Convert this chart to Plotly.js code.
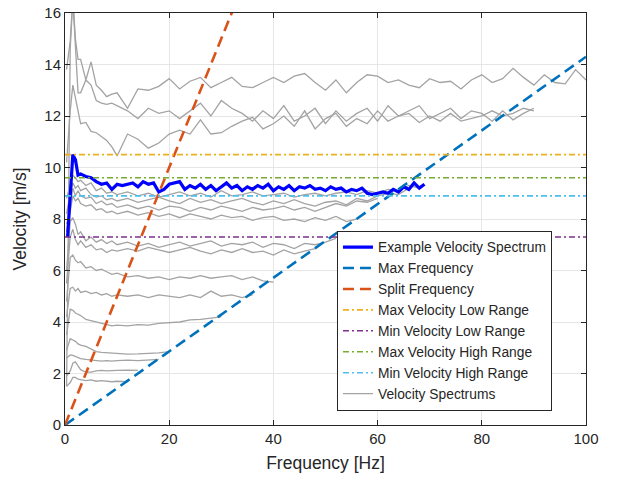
<!DOCTYPE html>
<html>
<head>
<meta charset="utf-8">
<script src="https://cdn.plot.ly/plotly-3.0.1.min.js"></script>
<style>html,body{margin:0;padding:0;background:#fff;}#chart{width:617px;height:477px;}</style>
</head>
<body>
<div id="chart"></div>
<script>
// Shared frequency grid for gray velocity spectrums [Hz]
const gridF = [0.3,1,1.5,2,2.5,3,4,5,6,7,8,9,10,12,14,16,18,20,22,24,26,28,30,32,34,36,38,40,42,44,46,48,50,52,54,56,58,60,62,64,66,68,70,72,74,76,78,80,82,84,86,88,90,92,94,96,98,100];

// Gray velocity spectrums [m/s]
const specU1 = [13.8,14.9,16.6,15.0,14.2,14.2,13.4,14.1,13.2,13.0,12.75,12.85,12.9,12.3,13.05,13.0,13.15,13.45,13.05,13.35,13.5,13.1,13.3,13.5,13.15,13.1,13.3,13.5,13.3,13.55,13.65,13.3,13.0,13.4,12.9,13.3,13.6,13.55,13.3,13.4,13.2,13.1,13.45,13.3,13.35,13.05,13.4,13.6,13.3,13.45,13.85,13.5,13.2,13.6,13.3,13.25,13.8,13.4];
const specU2 = [1.5,14.6,16.5,14.8,12.9,12.9,13.4,13.2,12.6,12.5,12.45,12.5,12.4,12.2,11.9,12.3,12.1,12.2,11.9,12.2,12.5,12.0,12.6,12.3,12.1,11.8,12.2,11.9,12.4,11.8,12.0,12.3,11.7,12.2,11.8,12.1,12.3,11.8,12.4,12.0,12.2,12.4,11.9,12.1,12.3,11.9,12.2,12.1,11.8,12.2,11.85,12.1,12.3];
const specU3 = [10.2,12.2,13.2,12.7,12.3,11.7,11.75,11.4,11.35,11.2,11.05,10.8,10.45,11.3,11.1,10.75,10.95,11.3,11.45,11.3,11.85,11.3,11.35,11.6,11.8,11.95,11.5,11.7,12.0,11.6,12.2,11.5,11.9,12.1,11.6,11.9,11.7,12.2,11.8,12.0,12.1,11.75,12.0,11.8,12.1,11.8,11.9,12.0,12.2,12.0,12.1,12.3,12.2];
const specM1 = [8.8,9.3,9.7,9.6,9.45,9.5,9.3,9.4,9.1,9.2,9.0,9.05,8.95,9.05,8.9,9.0,8.85,8.95,9.05,8.9,9.0,8.85,9.1,8.9,8.95,9.05,8.9,8.95,9.0,8.85,8.95,9.0,8.9,9.0,9.05,8.95,9.1,9.0,9.15,9.1,9.3,9.2];
const specM2 = [8.2,9.0,9.4,9.2,9.3,9.1,9.2,8.95,8.85,8.9,8.75,8.8,8.7,8.8,8.65,8.75,8.85,8.7,8.6,8.8,8.65,8.75,8.6,8.7,8.8,8.65,8.55,8.7,8.6,8.75,8.6,8.5,8.65,8.7,8.55,8.8,8.7,8.9,9.0,8.95,9.2];
const specM3 = [7.5,8.6,9.2,8.9,9.1,8.9,8.8,8.85,8.6,8.7,8.55,8.6,8.45,8.55,8.4,8.5,8.35,8.5,8.45,8.3,8.45,8.35,8.5,8.4,8.3,8.45,8.35,8.4,8.5,8.35,8.45,8.3,8.45,8.6,8.5,8.7,8.65,8.8];
const specM4 = [7.8,8.3,8.9,8.7,8.8,8.6,8.5,8.55,8.35,8.4,8.25,8.3,8.2,8.3,8.15,8.25,8.1,8.2,8.05,8.2,8.1,8.0,8.15,8.05,8.1,7.95,8.05,8.1,7.95,8.0,7.9,8.05,7.95,8.1,7.9,8.0];
const specL1 = [6.0,7.9,8.05,7.8,7.4,7.5,7.15,7.3,7.1,7.2,7.05,7.15,7.0,7.1,6.95,7.05,6.9,7.0,7.1,6.95,7.05,7.15,6.95,7.05,7.0,7.1,6.9,7.05,7.0,6.85,7.05,7.0,7.1,7.25];
const specL2 = [5.5,7.3,7.6,7.2,7.0,7.15,6.9,7.0,6.8,6.85,6.7,6.8,6.75,6.85,6.75,6.9,6.8,6.7,6.8,6.9,6.75,6.65,6.8,6.7,6.85,6.7,6.75,6.6,6.8,6.65,6.75,6.85];
const specL3 = [4.8,6.5,6.6,6.4,6.3,6.35,6.1,6.15,6.0,6.05,5.95,5.85,5.9,5.75,5.8,5.7,5.75,5.65,5.75,5.7,5.8,5.7,5.75,5.8,5.65,5.75,5.6,5.55];
const specL4 = [4.2,5.3,5.35,5.2,5.3,5.15,5.2,5.1,5.15,5.05,5.1,5.0,5.05,5.0,5.05,4.95,5.05,5.0,4.95,5.05,4.95,5.2,5.0,5.05,4.95,5.05];
const specL5 = [3.5,4.5,4.45,4.35,4.3,4.25,4.1,4.05,4.0,3.95,3.92,3.85,3.88,3.85,3.9,3.88,3.95,3.98,4.0,4.08,4.1,4.15,4.2];
const specL6 = [2.9,3.35,3.3,3.25,3.15,3.1,3.05,2.95,2.85,2.82,2.8,2.8,2.78,2.75,2.76,2.78,2.8,2.85];
const specL7 = [2.6,2.72,2.7,2.65,2.6,2.58,2.55,2.52,2.5,2.48,2.5,2.48,2.5,2.52,2.5,2.53,2.55];
const specL8 = [1.9,2.1,2.4,2.45,2.3,2.15,2.05,2.05,2.1,2.12,2.1,2.1,2.12,2.13,2.12];
const specL9 = [1.5,1.65,1.85,1.85,1.78,1.75,1.72,1.75,1.7,1.72,1.7,1.68,1.7,1.68];
const graySpectra = [specU1,specU2,specU3,specM1,specM2,specM3,specM4,specL1,specL2,specL3,specL4,specL5,specL6,specL7,specL8,specL9];

// Example velocity spectrum
const exampleF = [0.5,1,1.5,2,2.5,3,4,5,6,7,8,9,10,11,12,13,14,15,16,17,18,19,20,21,22,23,24,25,26,27,28,29,30,31,32,33,34,35,36,37,38,39,40,41,42,43,44,45,46,47,48,49,50,51,52,53,54,55,56,57,58,59,60,61,62,63,64,65,66,67,68,69];
const exampleV = [7.3,9.0,10.5,10.3,9.7,9.75,9.65,9.6,9.45,9.35,9.4,9.15,9.35,9.3,9.35,9.4,9.25,9.45,9.35,9.4,9.05,9.15,9.35,9.4,9.45,9.15,9.3,9.2,9.35,9.15,9.3,9.1,9.25,9.4,9.2,9.3,9.1,9.25,9.15,9.3,9.2,9.35,9.1,9.25,9.15,9.3,9.1,9.25,9.2,9.3,9.15,9.2,9.1,9.25,9.15,9.2,9.05,9.15,9.1,9.2,9.0,8.95,9.0,9.05,9.0,9.15,9.05,9.25,9.15,9.4,9.2,9.35,9.4];

// Reference lines
const maxFreqF = [0, 100];
const maxFreqV = [0, 14.3];
const splitFreqF = [0, 34];
const splitFreqV = [0, 17];
const limitsF = [0, 100];
const maxVelLow = 10.5;
const minVelLow = 7.3;
const maxVelHigh = 9.6;
const minVelHigh = 8.9;

const xTicks = [0,20,40,60,80,100];
const yTicks = [0,2,4,6,8,10,12,14,16];

const traces = [];
graySpectra.forEach((vals, i) => {
  traces.push({
    x: gridF.slice(0, vals.length), y: vals, type: 'scatter', mode: 'lines',
    line: {color: '#a3a3a3', width: 1.3},
    name: 'Velocity Spectrums', legendgroup: 'spec', showlegend: i === 0,
    legendrank: 8, hoverinfo: 'skip'
  });
});
traces.push({x: exampleF, y: exampleV, type:'scatter', mode:'lines', name:'Example Velocity Spectrum',
  line:{color:'#0000ff', width:3.2}, legendrank:1});
traces.push({x: maxFreqF, y: maxFreqV, type:'scatter', mode:'lines', name:'Max Frequency',
  line:{color:'#0072BD', width:2.6, dash:'11px,6px'}, legendrank:2});
traces.push({x: splitFreqF, y: splitFreqV, type:'scatter', mode:'lines', name:'Split Frequency',
  line:{color:'#D95319', width:2.6, dash:'11px,6px'}, legendrank:3});
const hl = [
  [maxVelLow, 'Max Velocity Low Range', '#EDB120', 4],
  [minVelLow, 'Min Velocity Low Range', '#7E2F8E', 5],
  [maxVelHigh, 'Max Velocity High Range', '#77AC30', 6],
  [minVelHigh, 'Min Velocity High Range', '#4DBEEE', 7]
];
hl.forEach(h => {
  traces.push({x: limitsF, y: [h[0], h[0]], type:'scatter', mode:'lines', name:h[1],
    line:{color:h[2], width:1.6, dash:'6px,3px,2px,3px'}, legendrank:h[3]});
});

const axisCommon = {
  showline: true, linecolor: '#262626', linewidth: 1, mirror: 'allticks',
  ticks: 'inside', ticklen: 5, tickcolor: '#262626', tickwidth: 1,
  showgrid: true, gridcolor: '#e6e6e6', gridwidth: 1, zeroline: false,
  tickfont: {family: 'Liberation Sans, Arial, sans-serif', size: 15, color: '#262626'}
};

const layout = {
  width: 617, height: 477,
  margin: {l: 65, r: 31, t: 13, b: 52},
  paper_bgcolor: '#ffffff', plot_bgcolor: '#ffffff',
  font: {family: 'Liberation Sans, Arial, sans-serif', color: '#262626'},
  xaxis: Object.assign({}, axisCommon, {range: [0, 100], tickvals: xTicks,
    title: {text: 'Frequency [Hz]', font: {size: 17.5, color: '#262626'}, standoff: 10}}),
  yaxis: Object.assign({}, axisCommon, {range: [0, 16], tickvals: yTicks,
    title: {text: 'Velocity [m/s]', font: {size: 17.5, color: '#262626'}, standoff: 13}}),
  legend: {
    x: 0.522, y: 0.035, xanchor: 'left', yanchor: 'bottom',
    bgcolor: '#ffffff', bordercolor: '#262626', borderwidth: 1,
    font: {size: 13.8, color: '#262626'}, tracegroupgap: 0, traceorder: 'normal'
  },
  showlegend: true
};

Plotly.newPlot('chart', traces, layout, {displayModeBar: false, staticPlot: true});
</script>
</body>
</html>
